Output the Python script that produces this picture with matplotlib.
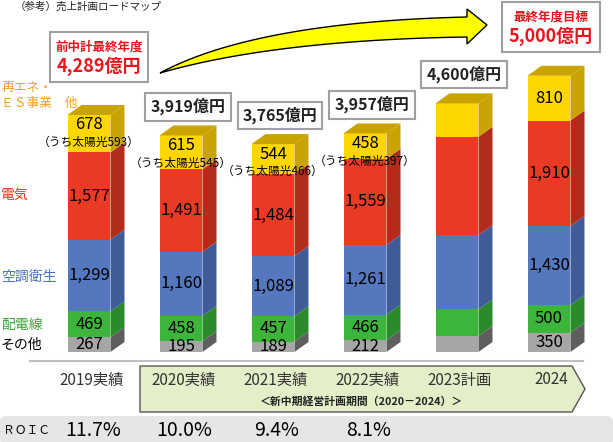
import numpy as np
import matplotlib
matplotlib.use('Agg')
import matplotlib.pyplot as plt
from matplotlib.patches import Polygon, Rectangle, FancyBboxPatch
from matplotlib.transforms import blended_transform_factory

plt.rcParams['font.family'] = ['Noto Sans CJK JP', 'DejaVu Sans']
NUM = ['Liberation Sans Narrow', 'Noto Sans CJK JP', 'DejaVu Sans']

# data (億円)
years = ['2019実績', '2020実績', '2021実績', '2022実績', '2023計画', '2024']
other = [267, 195, 189, 212, 290, 350]
wiring = [469, 458, 457, 466, 480, 500]
hvac = [1299, 1160, 1089, 1261, 1345, 1430]
electric = [1577, 1491, 1484, 1559, 1780, 1910]
renew = [678, 615, 544, 458, 605, 810]
solar = [593, 545, 466, 397, None, None]
show_vals = [True, True, True, True, False, True]
total_labels = ['4,289億円', '3,919億円', '3,765億円', '3,957億円', '4,600億円', '5,000億円']
roic = ['11.7%', '10.0%', '9.4%', '8.1%']

series = [other, wiring, hvac, electric, renew]
front_cols = ['#A6A6A6', '#3DB53A', '#5577BD', '#E93A24', '#FFD700']
side_cols = ['#5E5E5E', '#2B8A2A', '#405C98', '#B32B1B', '#C9A400']

W, H = 613, 442
fig = plt.figure(figsize=(W / 100, H / 100), dpi=100)
ax = fig.add_axes([0, 0, 1, 1])
# 92 px per category, 18.1 units per px, baseline at y=352 px
ax.set_xlim(-89 / 92, (W - 89) / 92)
ax.set_ylim(-(H - 352) * 18.1, 352 * 18.1)
ax.axis('off')

bw = 0.467
dx = 14 / 92
dy = 10 * 18.1
x = np.arange(len(years))


def fx(px):
    return px / W


def fy(py):
    return 1 - py / H


bottom = np.zeros(len(years))
for k, vals in enumerate(series):
    vals = np.array(vals, dtype=float)
    ax.bar(x, vals, bw, bottom=bottom, color=front_cols[k], linewidth=0, zorder=2)
    for i in range(len(years)):
        x1 = x[i] + bw / 2
        y0, y1 = bottom[i], bottom[i] + vals[i]
        ax.add_patch(Polygon([(x1, y0), (x1 + dx, y0 + dy), (x1 + dx, y1 + dy), (x1, y1)],
                             closed=True, color=side_cols[k], lw=0, zorder=2))
        if k == len(series) - 1:
            x0 = x[i] - bw / 2
            ax.add_patch(Polygon([(x0, y1), (x0 + dx, y1 + dy), (x1 + dx, y1 + dy), (x1, y1)],
                                 closed=True, color=side_cols[k], lw=0, zorder=2))
        if not show_vals[i]:
            continue
        if k == len(series) - 1 and solar[i] is not None:
            ax.text(x[i], y1 - 180, f'{int(vals[i]):,}', ha='center', va='center',
                    fontsize=12, family=NUM, zorder=4)
            ax.text(x[i], y1 - 500, f'（うち太陽光{solar[i]}）', ha='center', va='center',
                    fontsize=8.5, zorder=4)
        else:
            ax.text(x[i], y0 + vals[i] / 2, f'{int(vals[i]):,}', ha='center', va='center',
                    fontsize=12, family=NUM, zorder=4)
    bottom += vals

# total boxes above middle bars
for i in range(1, 5):
    ax.text(x[i] + dx / 2, bottom[i] + 520, total_labels[i], ha='center', va='center',
            fontsize=11.5, fontweight='bold', color='#222222', zorder=5,
            bbox=dict(boxstyle='square,pad=0.32', fc='white', ec='#A0A0A0', lw=1.5))

# first / last year header boxes
for (bx0, by0, bx1, by1), head, tot in [((50, 32, 148, 82), '前中計最終年度', total_labels[0]),
                                       ((502, 2, 600, 52), '最終年度目標', total_labels[5])]:
    ax.add_patch(Rectangle((fx(bx0), fy(by1)), fx(bx1 - bx0), (by1 - by0) / H,
                           transform=fig.transFigure, fc='white', ec='#A0A0A0', lw=1.5,
                           zorder=3))
    cx = fx((bx0 + bx1) / 2)
    ax.text(cx, fy(by0 + 15), head, transform=fig.transFigure, ha='center', va='center',
            fontsize=9, fontweight='bold', color='#E8141E', zorder=5)
    ax.text(cx, fy(by0 + 34), tot, transform=fig.transFigure, ha='center', va='center',
            fontsize=13, fontweight='bold', color='#E8141E', zorder=5)

# big yellow arrow
t = np.linspace(0, 1, 40)[:, None]


def bez(p0, c, p2):
    p0, c, p2 = map(np.array, (p0, c, p2))
    return (1 - t) ** 2 * p0 + 2 * (1 - t) * t * c + t ** 2 * p2


upper = bez((160, 73), (255, 22), (467, 17))
lower = bez((160, 73), (275, 40), (467, 37))
pts = np.vstack([upper, [(467, 9), (487, 25), (467, 44)], lower[::-1]])
pts = np.column_stack([pts[:, 0] / W, 1 - pts[:, 1] / H])
ax.add_patch(Polygon(pts, closed=True, transform=fig.transFigure,
                     fc='#FFFF00', ec='black', lw=1, zorder=3))

# title and category labels
fig.text(fx(15), fy(7), '（参考）売上計画ロードマップ', ha='left', va='center', fontsize=7.6,
         color='#222222')
fig.text(fx(1), fy(87), '再エネ・', ha='left', va='center', fontsize=9.2, color='#F0A020')
fig.text(fx(1), fy(103), 'ＥＳ事業　他', ha='left', va='center', fontsize=9.2, color='#F0A020')
fig.text(fx(1), fy(195), '電気', ha='left', va='center', fontsize=10, color='#E8321E')
fig.text(fx(1), fy(277), '空調衛生', ha='left', va='center', fontsize=10, color='#4A70B8')
fig.text(fx(1), fy(325), '配電線', ha='left', va='center', fontsize=10, color='#35A535')
fig.text(fx(1), fy(345), 'その他', ha='left', va='center', fontsize=10, color='black')

# bottom axis area
ax.add_line(plt.Line2D([fx(30), fx(583)], [fy(360.7)] * 2, transform=fig.transFigure,
                       color='#C0C0C0', lw=1.5, zorder=1))
ax.add_patch(Polygon([(fx(140), fy(366)), (fx(572), fy(366)), (fx(585), fy(389)),
                      (fx(572), fy(412)), (fx(140), fy(412))], closed=True,
                     transform=fig.transFigure, fc='#E4EEC8', ec='#555555', lw=1, zorder=1))
ax.add_patch(FancyBboxPatch((0, fy(445)), 1, 29 / H, boxstyle='round,pad=0,rounding_size=0.012',
                            transform=fig.transFigure, fc='#E6E6E6', ec='none', zorder=1))

tr = blended_transform_factory(ax.transData, fig.transFigure)
for i, yl in enumerate(years):
    ax.text(x[i] + 0.03, fy(380), yl, transform=tr, ha='center', va='center',
            fontsize=11, family=NUM, color='#333333', zorder=5)
ax.text(fx(362), fy(402), '＜新中期経営計画期間（2020－2024）＞', transform=fig.transFigure,
        ha='center', va='center', fontsize=7.8, fontweight='bold', color='#222222', zorder=5)
ax.text(fx(3), fy(430), 'ＲＯＩＣ', transform=fig.transFigure, ha='left', va='center',
        fontsize=8.5, color='black', zorder=5)
for i, r in enumerate(roic):
    ax.text(x[i] + 0.04, fy(430), r, transform=tr, ha='center', va='center',
            fontsize=14, family=NUM, color='black', zorder=5)

fig.savefig('out.png', dpi=100)
